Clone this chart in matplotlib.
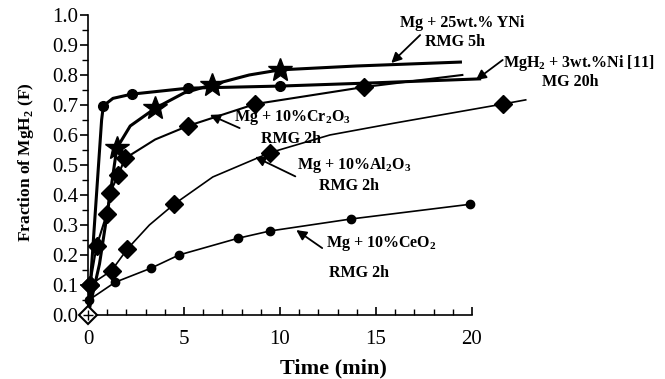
import matplotlib.pyplot as plt
from matplotlib.ticker import MultipleLocator

plt.rcParams['font.family'] = 'Liberation Serif'
plt.rcParams['mathtext.fontset'] = 'custom'
plt.rcParams['mathtext.rm'] = 'Liberation Serif:bold'
plt.rcParams['mathtext.bf'] = 'Liberation Serif:bold'

# Curves (line knots) + which knots carry a marker
ni_x = [0, 0.1, 0.71, 0.8, 1.3, 2.27, 5.2, 10.0, 15.0, 20.4]
ni_y = [0, 0.08, 0.65, 0.697, 0.722, 0.736, 0.756, 0.763, 0.774, 0.787]
ni_marks = [3, 5, 6, 7]

yni_x = [0, 0.6, 1.15, 1.5, 2.2, 3.5, 5.0, 6.44, 8.4, 10.0, 14.0, 19.4]
yni_y = [0, 0.17, 0.40, 0.556, 0.63, 0.689, 0.74, 0.767, 0.80, 0.817, 0.83, 0.843]
yni_marks = [3, 5, 7, 9]

cr_x = [0, 0.1, 0.45, 0.97, 1.15, 1.58, 1.93, 3.5, 5.2, 8.7, 14.4, 19.5]
cr_y = [0, 0.10, 0.23, 0.335, 0.408, 0.467, 0.522, 0.585, 0.63, 0.703, 0.76, 0.80]
cr_marks = [1, 2, 3, 4, 5, 6, 8, 9, 10]

al_x = [0, 0.1, 1.23, 2.05, 3.2, 4.48, 6.5, 9.48, 12.6, 16.0, 21.6, 22.8]
al_y = [0, 0.10, 0.148, 0.22, 0.30, 0.369, 0.46, 0.541, 0.60, 0.64, 0.703, 0.717]
al_marks = [1, 2, 3, 5, 7, 10]

ce_x = [0, 0.05, 1.41, 3.28, 4.74, 7.83, 9.48, 13.7, 19.9]
ce_y = [0, 0.05, 0.109, 0.156, 0.2, 0.256, 0.28, 0.32, 0.369]
ce_marks = [1, 2, 3, 4, 5, 6, 7, 8]

fig = plt.figure(figsize=(6.65, 3.79), dpi=100)
ax = fig.add_axes([0.1323, 0.1689, 0.5774, 0.7916])

ax.plot(ce_x, ce_y, color='black', lw=1.2, marker='o', ms=6, markevery=ce_marks, clip_on=False)
ax.plot(al_x, al_y, color='black', lw=1.2, marker='D', ms=9, markevery=al_marks, clip_on=False)
ax.plot(cr_x, cr_y, color='black', lw=1.5, marker='D', ms=9, markevery=cr_marks, clip_on=False)
ax.plot(ni_x, ni_y, color='black', lw=2.2, marker='o', ms=7, markevery=ni_marks, clip_on=False)
ax.plot(yni_x, yni_y, color='black', lw=2.2, marker='*', ms=18, markevery=yni_marks, clip_on=False)

# open marker at the origin
ax.plot([0], [0], marker='D', ms=9, mfc='white', mec='black', mew=1.5, clip_on=False, zorder=5)
ax.plot([0], [0], marker='+', ms=7, color='black', mew=1, clip_on=False, zorder=6)

ax.set_xlim(0, 20)
ax.set_ylim(0, 1.0)
ax.spines['top'].set_visible(False)
ax.spines['right'].set_visible(False)
ax.spines['left'].set_linewidth(1.2)
ax.spines['bottom'].set_linewidth(1.2)

ax.xaxis.set_major_locator(MultipleLocator(5))
ax.xaxis.set_minor_locator(MultipleLocator(1))
ax.yaxis.set_major_locator(MultipleLocator(0.1))
ax.yaxis.set_minor_locator(MultipleLocator(0.05))
ax.yaxis.set_major_formatter(plt.FormatStrFormatter('%.1f'))
ax.tick_params(axis='x', which='both', direction='in', labelsize=15, pad=11)
ax.tick_params(axis='x', which='major', length=6, width=1.2)
ax.tick_params(axis='x', which='minor', length=4, width=1)
ax.tick_params(axis='y', which='both', direction='out', labelsize=15, pad=1)
ax.tick_params(axis='y', which='major', length=6, width=1.2)
ax.tick_params(axis='y', which='minor', length=4, width=1)

ax.set_xlabel('Time (min)', fontsize=16, fontweight='bold')
ax.xaxis.set_label_coords(0.64, -0.145)
ax.set_ylabel('Fraction of MgH$_{2}$ (F)', fontsize=12.5, fontweight='bold')
ax.yaxis.set_label_coords(-0.135, 0.51)

lab = dict(fontsize=11.5, fontweight='bold', ha='center', va='center')
arr = dict(arrowstyle='-|>', color='black', lw=1.3, mutation_scale=15, shrinkA=0, shrinkB=0)

ax.text(19.5, 0.973, 'Mg + 25wt.% YNi', **lab)
ax.text(19.1, 0.91, 'RMG 5h', **lab)
ax.annotate('', xy=(15.8, 0.84), xytext=(17.3, 0.933), arrowprops=arr)

ax.text(21.6, 0.84, 'MgH$_{2}$ + 3wt.%Ni [11]', fontsize=11.5, fontweight='bold', ha='left', va='center')
ax.text(25.1, 0.777, 'MG 20h', **lab)
ax.annotate('', xy=(20.2, 0.783), xytext=(21.6, 0.85), arrowprops=arr, annotation_clip=False)

ax.text(7.6, 0.657, 'Mg + 10%Cr$_{2}$O$_{3}$', fontsize=11.5, fontweight='bold', ha='left', va='center')
ax.text(10.6, 0.585, 'RMG 2h', **lab)
ax.annotate('', xy=(6.35, 0.667), xytext=(7.9, 0.623), arrowprops=arr)

ax.text(10.9, 0.5, 'Mg + 10%Al$_{2}$O$_{3}$', fontsize=11.5, fontweight='bold', ha='left', va='center')
ax.text(13.6, 0.43, 'RMG 2h', **lab)
ax.annotate('', xy=(8.7, 0.527), xytext=(10.8, 0.462), arrowprops=arr)

ax.text(12.4, 0.237, 'Mg + 10%CeO$_{2}$', fontsize=11.5, fontweight='bold', ha='left', va='center')
ax.text(14.1, 0.14, 'RMG 2h', **lab)
ax.annotate('', xy=(10.85, 0.283), xytext=(12.2, 0.223), arrowprops=arr)

fig.savefig('out.png', dpi=100)
